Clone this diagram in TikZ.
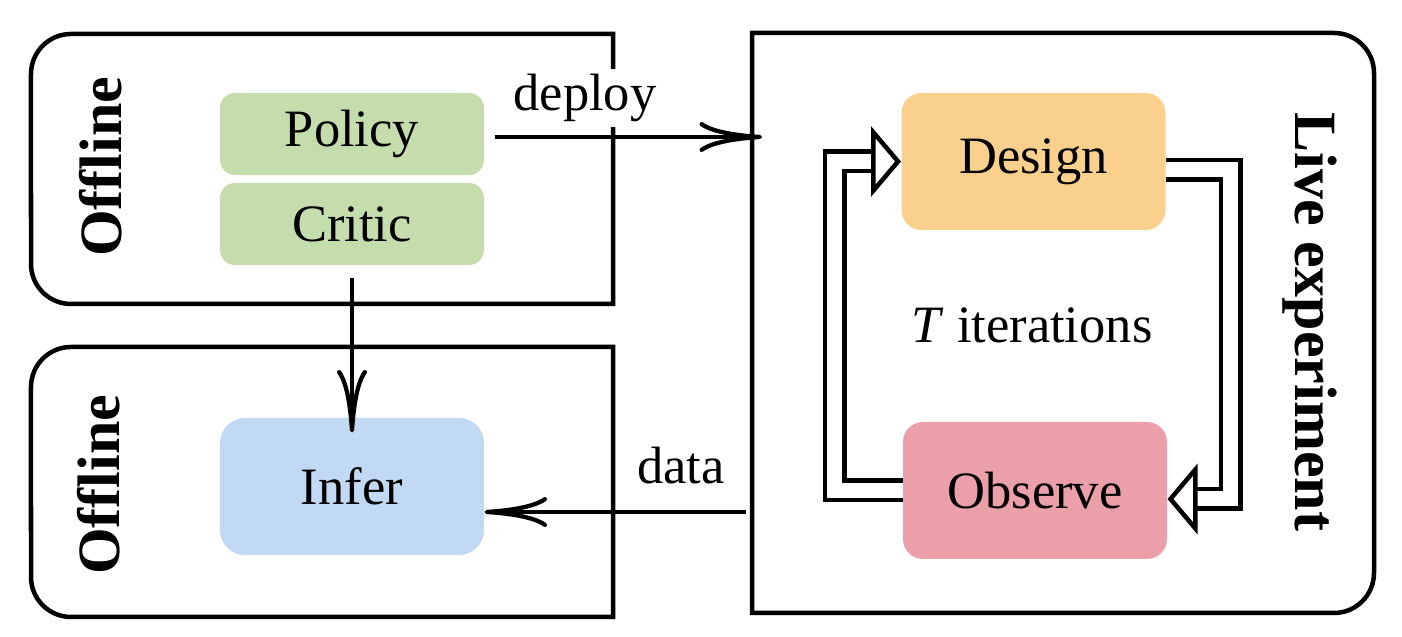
\documentclass[tikz,border=0pt]{standalone}
\usepackage{fontspec}
\setmainfont{Liberation Serif}
\usetikzlibrary{arrows.meta}
\definecolor{policygreen}{RGB}{197,221,173}
\definecolor{inferblue}{RGB}{193,217,242}
\definecolor{designorange}{RGB}{249,208,140}
\definecolor{observepink}{RGB}{235,160,169}

\begin{document}
\begin{tikzpicture}[x=0.4pt,y=0.4pt,
  block/.style={rounded corners=6pt,minimum width=105.6pt,font=\fontsize{21}{25}\selectfont},
  frame/.style={line width=1.8pt},
  flow/.style={line width=1.7pt,-{Computer Modern Rightarrow[length=25pt,width=12pt,line width=1.7pt]}},
  loopflow/.style={line width=1.8pt,double,double distance=6pt,-{Triangle[open,length=12pt,width=28pt,line width=1.8pt]}},
  side/.style={font=\fontsize{24}{28}\selectfont\bfseries},
  lbl/.style={font=\fontsize{21}{25}\selectfont}]
\useasboundingbox (0,0) rectangle (1402,637);
\draw[frame] (613,333) -- (613,603) -- (71,603) arc[start angle=90,end angle=180,radius=16pt] -- (31,373) arc[start angle=180,end angle=270,radius=16pt] -- cycle;
\draw[frame] (613,20) -- (613,290) -- (71,290) arc[start angle=90,end angle=180,radius=16pt] -- (31,60) arc[start angle=180,end angle=270,radius=16pt] -- cycle;
\draw[frame] (752,24) -- (752,604) -- (1334,604) arc[start angle=90,end angle=0,radius=16pt] -- (1374,64) arc[start angle=0,end angle=-90,radius=16pt] -- cycle;
\node[side,rotate=90] (offtop) at (101,470) {Offline};
\node[side,rotate=90] (offbot) at (99,152) {Offline};
\node[side,rotate=-90] (live) at (1310,315) {Live experiment};
\node[block,fill=policygreen,minimum height=32.8pt] (policy) at (352,503) {Policy};
\node[block,fill=policygreen,minimum height=32.8pt] (critic) at (352,413) {Critic};
\node[block,fill=inferblue,minimum height=54.8pt,rounded corners=10pt] (infer) at (352,150.5) {Infer};
\node[block,fill=designorange,minimum height=54.8pt,rounded corners=8pt] (design) at (1033.5,475.5) {Design};
\node[block,fill=observepink,minimum height=54.8pt,rounded corners=8pt] (observe) at (1035,146.5) {Observe};
\node[lbl] (iter) at (1032,312) {\textit{T} iterations};
\node[lbl,fill=white,inner sep=2pt] (deploy) at (585,539) {deploy};
\node[lbl] (data) at (681,171) {data};
\coordinate (deployin) at (762,500);
\coordinate (dataout) at (746,125);
\draw[flow] ([xshift=4pt]policy.east |- deployin) -- (deployin);
\draw[flow] ([yshift=-5pt]critic.south) -- ([yshift=-6pt]infer.north);
\draw[flow] (dataout) -- (dataout -| infer.east);
\draw[loopflow] (observe.west) -- ++(-68,0) |- (design.west);
\draw[loopflow] ([yshift=-3.4pt]design.east) -- ++(64.5,0) |- ([yshift=-3.4pt]observe.east);
\end{tikzpicture}
\end{document}
